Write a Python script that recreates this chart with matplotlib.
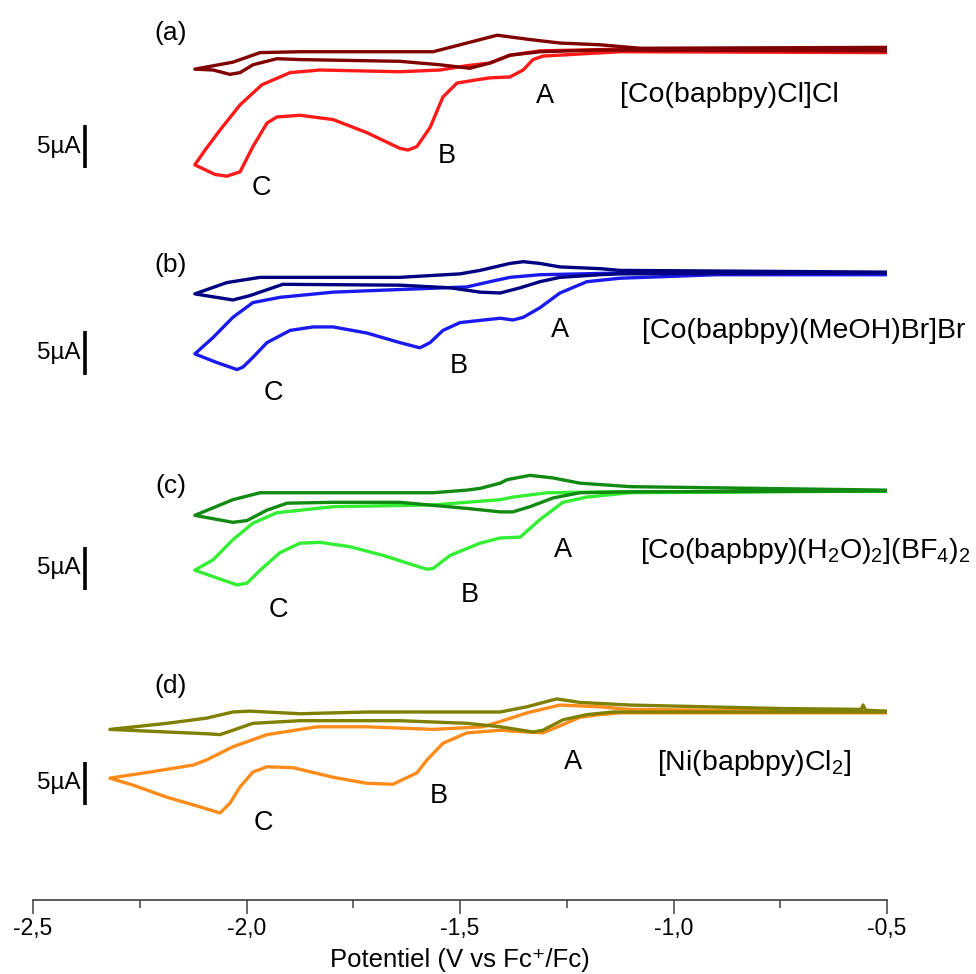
import matplotlib
matplotlib.use('Agg')
import matplotlib.pyplot as plt
from matplotlib.ticker import MultipleLocator

plt.rcParams['font.family'] = ['Liberation Sans', 'DejaVu Sans']
plt.rcParams['mathtext.fontset'] = 'custom'
plt.rcParams['mathtext.rm'] = 'Liberation Sans'
plt.rcParams['mathtext.it'] = 'Liberation Sans:italic'
plt.rcParams['mathtext.default'] = 'regular'

# ---- data : potentiel (V vs Fc+/Fc) et courant (uA) ----
# (a) [Co(bapbpy)Cl]Cl
a_full_v = [-0.50, -1.125, -1.306, -1.329, -1.352, -1.383, -1.43, -1.47, -1.507, -1.540, -1.570,
            -1.601, -1.622, -1.641, -1.718, -1.797, -1.875, -1.929, -1.952, -1.985, -2.015, -2.046,
            -2.074, -2.121, -2.097, -2.062, -2.015, -1.964, -1.898, -1.828, -1.734, -1.641, -1.547,
            -1.484, -1.430, -1.383, -1.313, -1.125, -0.50]
a_full_i = [-0.3, -0.2, -0.7, -1.1, -2.3, -3.1, -3.2, -3.5, -3.8, -5.4, -8.9,
            -11.1, -11.5, -11.3, -9.5, -8.0, -7.5, -7.7, -8.4, -11.1, -14.0, -14.5,
            -14.3, -13.2, -11.5, -9.2, -6.3, -4.0, -2.6, -2.3, -2.4, -2.5, -2.3,
            -1.8, -1.5, -0.6, -0.1, 0.1, 0.1]
a_small_v = [-0.50, -1.172, -1.313, -1.383, -1.430, -1.477, -1.547, -1.641, -1.875, -1.929, -1.985,
             -2.015, -2.039, -2.078, -2.121, -2.032, -1.968, -1.875, -1.563, -1.484, -1.413, -1.336,
             -1.266, -1.172, -1.078, -0.50]
a_small_i = [-0.1, 0.0, -0.2, -0.6, -1.5, -2.1, -1.7, -1.3, -1.1, -1.0, -1.7,
             -2.6, -2.8, -2.3, -2.2, -1.4, -0.3, -0.2, -0.2, 0.8, 1.7, 1.2,
             0.8, 0.6, 0.2, 0.3]

# (b) [Co(bapbpy)(MeOH)Br]Br
b_full_v = [-0.50, -0.90, -1.125, -1.203, -1.266, -1.313, -1.352, -1.376, -1.406, -1.500, -1.540,
            -1.570, -1.594, -1.641, -1.718, -1.797, -1.844, -1.898, -1.952, -1.985, -2.008, -2.022,
            -2.069, -2.121, -2.078, -2.032, -1.985, -1.922, -1.797, -1.641, -1.484, -1.430, -1.383,
            -1.313, -1.125, -0.50]
b_full_i = [-0.2, -0.2, -0.6, -1.0, -2.3, -4.0, -5.1, -5.4, -5.2, -5.7, -6.6,
            -8.0, -8.6, -8.0, -6.9, -6.2, -6.2, -6.6, -8.0, -9.7, -10.8, -11.1,
            -10.3, -9.3, -7.4, -5.1, -3.4, -2.8, -2.2, -1.9, -1.6, -1.0, -0.5,
            -0.2, 0.0, 0.0]
b_small_v = [-0.50, -1.125, -1.172, -1.266, -1.313, -1.359, -1.406, -1.453, -1.523, -1.641, -1.915,
             -1.992, -2.032, -2.121, -2.046, -1.968, -1.875, -1.641, -1.500, -1.453, -1.383, -1.352,
             -1.313, -1.266, -1.172, -1.125, -0.50]
b_small_i = [0.0, -0.1, -0.2, -0.5, -1.0, -1.7, -2.3, -2.2, -1.7, -1.4, -1.3,
             -2.6, -3.1, -2.4, -1.1, -0.5, -0.5, -0.5, -0.1, 0.3, 1.1, 1.3,
             1.1, 0.7, 0.5, 0.3, 0.1]

# (c) [Co(bapbpy)(H2O)2](BF4)2
c_full_v = [-0.50, -1.102, -1.203, -1.259, -1.313, -1.359, -1.406, -1.453, -1.523, -1.563, -1.577,
            -1.610, -1.680, -1.758, -1.828, -1.875, -1.922, -1.968, -1.999, -2.022, -2.069, -2.121,
            -2.078, -2.032, -1.985, -1.929, -1.797, -1.563, -1.406, -1.376, -1.296, -1.142, -0.50]
c_full_i = [0.0, -0.2, -0.7, -1.3, -3.3, -5.3, -5.4, -6.0, -7.4, -8.9, -9.0,
            -8.5, -7.4, -6.4, -5.9, -6.0, -7.1, -9.1, -10.6, -10.8, -10.0, -9.1,
            -7.9, -5.6, -3.7, -2.5, -1.8, -1.6, -1.0, -0.7, -0.2, -0.1, 0.0]
c_small_v = [-0.50, -1.102, -1.219, -1.282, -1.336, -1.376, -1.406, -1.484, -1.641, -1.797, -1.905,
             -1.952, -1.999, -2.032, -2.121, -2.032, -1.968, -1.797, -1.563, -1.484, -1.453, -1.406,
             -1.390, -1.336, -1.282, -1.219, -1.102, -0.50]
c_small_i = [0.0, -0.1, -0.2, -0.8, -1.8, -2.4, -2.4, -2.0, -1.3, -1.3, -1.4,
             -2.2, -3.4, -3.6, -2.8, -1.0, -0.2, -0.2, -0.2, 0.1, 0.3, 0.9,
             1.3, 1.8, 1.5, 0.9, 0.5, 0.1]

# (d) [Ni(bapbpy)Cl2]
d_full_v = [-0.50, -1.125, -1.172, -1.219, -1.266, -1.306, -1.343, -1.406, -1.484, -1.540, -1.577,
            -1.601, -1.657, -1.718, -1.797, -1.891, -1.952, -1.985, -2.015, -2.039, -2.062, -2.109,
            -2.186, -2.266, -2.320, -2.226, -2.125, -2.093, -2.032, -1.952, -1.835, -1.718, -1.563,
            -1.446, -1.406, -1.343, -1.266, -1.172, -1.102, -0.50]
d_full_i = [-0.1, -0.1, -0.3, -0.6, -1.6, -2.4, -2.3, -2.1, -2.4, -3.6, -5.5,
            -7.0, -8.3, -8.2, -7.5, -6.4, -6.3, -6.9, -8.6, -10.5, -11.6, -10.9,
            -9.8, -8.4, -7.6, -6.9, -6.1, -5.5, -4.0, -2.6, -1.7, -1.7, -2.0,
            -1.7, -1.1, -0.1, 0.8, 0.6, 0.3, 0.0]
d_small_v = [-0.50, -1.142, -1.203, -1.259, -1.306, -1.329, -1.406, -1.484, -1.641, -1.875, -1.985,
             -2.032, -2.062, -2.093, -2.186, -2.320, -2.186, -2.093, -2.032, -1.992, -1.875, -1.718,
             -1.406, -1.343, -1.282, -1.273, -1.219, -1.102, -0.75, -0.56, -0.556, -0.55, -0.50]
d_small_i = [0.0, 0.0, -0.3, -0.9, -2.1, -2.3, -1.7, -1.3, -1.0, -1.0, -1.3,
             -2.1, -2.6, -2.5, -2.3, -2.0, -1.3, -0.7, 0.0, 0.1, -0.2, 0.0,
             0.0, 0.6, 1.4, 1.5, 1.1, 0.8, 0.4, 0.3, 0.8, 0.2, 0.1]

compounds = ['[Co(bapbpy)Cl]Cl',
             '[Co(bapbpy)(MeOH)Br]Br',
             '[Co(bapbpy)(H$_2$O)$_2$](BF$_4$)$_2$',
             '[Ni(bapbpy)Cl$_2$]']
panel_letters = ['(a)', '(b)', '(c)', '(d)']
tick_values = [-2.5, -2.0, -1.5, -1.0, -0.5]
tick_labels = ['-2,5', '-2,0', '-1,5', '-1,0', '-0,5']
scale_ua = 5

# ---- mise en page ----
px_per_ua = 8.7
axis_px = 900                                  # position de l'axe (pixels depuis le haut)
baselines_px = [50, 273, 491, 712]             # ligne de base de chaque voltammogramme
offsets = [(axis_px - b) / px_per_ua for b in baselines_px]
full_colors = ['#ff1a1a', '#1a1aee', '#33ee33', '#ff8c1a']
small_colors = ['#800000', '#000080', '#108a10', '#808000']
curves = [(a_full_v, a_full_i, a_small_v, a_small_i),
          (b_full_v, b_full_i, b_small_v, b_small_i),
          (c_full_v, c_full_i, c_small_v, c_small_i),
          (d_full_v, d_full_i, d_small_v, d_small_i)]
# positions des textes (V, uA relatif)
pos_A = [(-1.301, -6.1), (-1.266, -7.4), (-1.259, -7.6), (-1.235, -6.6)]
pos_B = [(-1.530, -13.0), (-1.502, -11.5), (-1.477, -12.8), (-1.549, -10.5)]
pos_C = [(-1.964, -16.7), (-1.938, -14.6), (-1.926, -14.5), (-1.961, -13.6)]
pos_cmp = [(-1.125, -6.0), (-1.074, -7.5), (-1.078, -7.7), (-1.039, -6.7)]
pos_let = [1.1, 0.1, -0.2, 2.2]
bar_top = [-8.6, -6.7, -6.4, -5.7]

fig = plt.figure(figsize=(9.76, 9.74), dpi=100)
ax = fig.add_axes([33 / 976, (974 - axis_px) / 974, 854 / 976, axis_px / 974])

for k in range(4):
    fv, fi, sv, si = curves[k]
    off = offsets[k]
    ax.plot(fv, [y + off for y in fi], color=full_colors[k], lw=2.4,
            solid_joinstyle='round', solid_capstyle='butt')
    ax.plot(sv, [y + off for y in si], color=small_colors[k], lw=2.4,
            solid_joinstyle='round', solid_capstyle='butt')

    # barre d'echelle 5 uA
    ax.plot([-2.378, -2.378], [off + bar_top[k], off + bar_top[k] - scale_ua],
            color='black', lw=2.6, solid_capstyle='butt')
    ax.text(-2.388, off + bar_top[k] - scale_ua / 2, '5µA', fontsize=17.5,
            ha='right', va='center')

    ax.text(-2.177, off + pos_let[k], panel_letters[k], fontsize=19,
            ha='center', va='baseline')
    ax.text(pos_A[k][0], off + pos_A[k][1], 'A', fontsize=19.5, ha='center', va='baseline')
    ax.text(pos_B[k][0], off + pos_B[k][1], 'B', fontsize=19.5, ha='center', va='baseline')
    ax.text(pos_C[k][0], off + pos_C[k][1], 'C', fontsize=19.5, ha='center', va='baseline')
    ax.text(pos_cmp[k][0], off + pos_cmp[k][1], compounds[k], fontsize=20.5,
            ha='left', va='baseline')

ax.set_xlim(-2.5, -0.5)
ax.set_ylim(0, axis_px / px_per_ua)
for s in ['left', 'right', 'top']:
    ax.spines[s].set_visible(False)
ax.spines['bottom'].set_color('#404040')
ax.spines['bottom'].set_linewidth(1.2)
ax.set_yticks([])
ax.set_xticks(tick_values)
ax.set_xticklabels(tick_labels)
ax.xaxis.set_minor_locator(MultipleLocator(0.25))
ax.tick_params(axis='x', which='major', length=10, width=1.1, color='#404040',
               labelsize=16.5, pad=2.5)
ax.tick_params(axis='x', which='minor', length=5.5, width=1.1, color='#404040')
ax.patch.set_visible(False)

# titre de l'axe x, place sous les graduations
fig.text((33 + 427 * 1.0) / 976, 2 / 974, 'Potentiel (V vs Fc\u207a/Fc)',
         fontsize=18.5, ha='center', va='bottom')

fig.savefig('out.png', dpi=100)
